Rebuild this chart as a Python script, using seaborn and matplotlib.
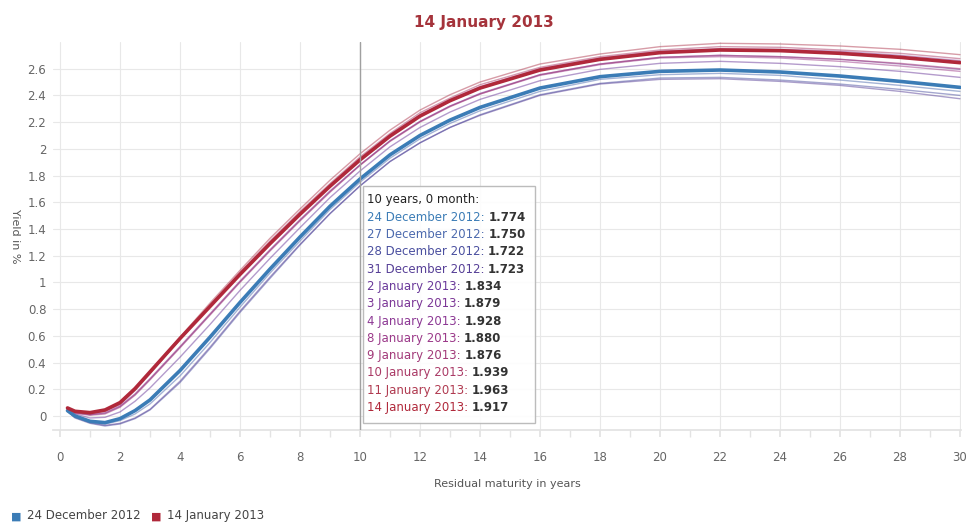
"""Yield curves around the turn of 2012/2013, 10-year readout."""

import matplotlib

matplotlib.use("Agg")
import matplotlib.pyplot as plt
import seaborn as sns
from matplotlib.patches import Rectangle

# residual maturity in years
maturity = [0.25, 0.5, 1, 1.5, 2, 2.5, 3, 4, 5, 6, 7, 8, 9, 10, 11, 12, 13, 14,
            16, 18, 20, 22, 24, 26, 28, 30]

# yields in %
dec24 = [0.04, 0.00, -0.04, -0.05, -0.02, 0.04, 0.12, 0.34, 0.59, 0.85, 1.10, 1.34, 1.57,
         1.774, 1.955, 2.10, 2.215, 2.31, 2.455, 2.54, 2.58, 2.59, 2.575, 2.545, 2.505, 2.46]
dec27 = [0.04, -0.005, -0.045, -0.06, -0.035, 0.015, 0.09, 0.30, 0.55, 0.815, 1.07, 1.31, 1.545,
         1.750, 1.93, 2.075, 2.19, 2.285, 2.43, 2.52, 2.555, 2.565, 2.55, 2.515, 2.475, 2.43]
dec28 = [0.035, -0.015, -0.055, -0.075, -0.06, -0.02, 0.045, 0.25, 0.505, 0.775, 1.03, 1.28, 1.515,
         1.722, 1.905, 2.045, 2.16, 2.255, 2.405, 2.49, 2.53, 2.535, 2.515, 2.485, 2.445, 2.40]
dec31 = [0.035, -0.01, -0.05, -0.07, -0.055, -0.015, 0.05, 0.26, 0.515, 0.785, 1.04, 1.285, 1.515,
         1.723, 1.905, 2.045, 2.16, 2.25, 2.40, 2.485, 2.52, 2.525, 2.505, 2.475, 2.43, 2.375]
jan02 = [0.05, 0.015, -0.015, -0.01, 0.03, 0.11, 0.21, 0.44, 0.685, 0.94, 1.18, 1.41, 1.635,
         1.834, 2.015, 2.16, 2.275, 2.37, 2.51, 2.595, 2.64, 2.655, 2.64, 2.615, 2.58, 2.535]
jan03 = [0.055, 0.025, 0.01, 0.02, 0.07, 0.16, 0.275, 0.515, 0.76, 1.005, 1.24, 1.465, 1.68,
         1.879, 2.06, 2.205, 2.32, 2.415, 2.555, 2.635, 2.685, 2.70, 2.69, 2.67, 2.635, 2.595]
jan04 = [0.06, 0.035, 0.02, 0.04, 0.09, 0.195, 0.32, 0.575, 0.825, 1.065, 1.30, 1.52, 1.725,
         1.928, 2.105, 2.255, 2.37, 2.465, 2.60, 2.68, 2.73, 2.75, 2.745, 2.73, 2.70, 2.66]
jan08 = [0.055, 0.025, 0.01, 0.025, 0.075, 0.165, 0.28, 0.52, 0.765, 1.01, 1.245, 1.47, 1.685,
         1.880, 2.06, 2.205, 2.32, 2.41, 2.55, 2.63, 2.68, 2.69, 2.68, 2.655, 2.62, 2.58]
jan09 = [0.05, 0.02, 0.005, 0.015, 0.065, 0.155, 0.27, 0.51, 0.755, 1.00, 1.235, 1.46, 1.675,
         1.876, 2.055, 2.20, 2.315, 2.41, 2.555, 2.635, 2.685, 2.70, 2.69, 2.67, 2.64, 2.60]
jan10 = [0.055, 0.03, 0.015, 0.035, 0.085, 0.19, 0.315, 0.575, 0.83, 1.075, 1.31, 1.53, 1.74,
         1.939, 2.115, 2.27, 2.38, 2.48, 2.61, 2.69, 2.74, 2.765, 2.76, 2.74, 2.715, 2.675]
jan11 = [0.06, 0.035, 0.02, 0.04, 0.095, 0.20, 0.33, 0.59, 0.845, 1.09, 1.33, 1.55, 1.765,
         1.963, 2.14, 2.29, 2.405, 2.50, 2.635, 2.71, 2.765, 2.79, 2.785, 2.77, 2.745, 2.705]
jan14 = [0.06, 0.035, 0.025, 0.045, 0.10, 0.205, 0.33, 0.58, 0.82, 1.06, 1.29, 1.51, 1.72,
         1.917, 2.095, 2.245, 2.36, 2.455, 2.59, 2.67, 2.72, 2.74, 2.735, 2.715, 2.685, 2.645]

dates = ["24 December 2012", "27 December 2012", "28 December 2012", "31 December 2012",
         "2 January 2013", "3 January 2013", "4 January 2013", "8 January 2013",
         "9 January 2013", "10 January 2013", "11 January 2013", "14 January 2013"]
curves = [dec24, dec27, dec28, dec31, jan02, jan03, jan04, jan08, jan09, jan10, jan11, jan14]

colors = ["#3b7cb6", "#4c6aae", "#4a4f9f", "#563f97", "#6a399a", "#7b3696",
          "#8c3894", "#9b3989", "#a23a79", "#aa3a66", "#b03a50", "#b0283a"]

y_ticks = [0, 0.2, 0.4, 0.6, 0.8, 1, 1.2, 1.4, 1.6, 1.8, 2, 2.2, 2.4, 2.6]
x_ticks = list(range(0, 31, 2))

sns.set_theme(style="whitegrid")
plt.rcParams["font.family"] = ["DejaVu Sans"]

fig = plt.figure(figsize=(9.67, 5.24), dpi=100)
ax = fig.add_axes([0.0543, 0.1794, 0.9400, 0.7405])

# thin lines first, the two highlighted dates on top
for i in range(1, len(curves) - 1):
    sns.lineplot(x=maturity, y=curves[i], ax=ax, color=colors[i], lw=1.0, alpha=0.5, zorder=2)
sns.lineplot(x=maturity, y=curves[0], ax=ax, color=colors[0], lw=2.6, zorder=3)
sns.lineplot(x=maturity, y=curves[-1], ax=ax, color=colors[-1], lw=2.6, zorder=3)

ax.set_xlim(-0.25, 30.05)
ax.set_ylim(-0.105, 2.80)
ax.set_xticks(x_ticks)
ax.set_xticks(range(1, 30, 2), minor=True)
ax.set_yticks(y_ticks)
ax.set_yticklabels([f"{v:g}" for v in y_ticks])
ax.grid(True, which="major", color="#e8e8e8", lw=0.8)
ax.grid(False, which="minor")
for side in ["left", "right", "top"]:
    ax.spines[side].set_visible(False)
ax.spines["bottom"].set_color("#e3e3e3")
ax.tick_params(axis="x", which="both", length=5, color="#e3e3e3", pad=10,
               labelsize=8.5, labelcolor="#666666", bottom=True)
ax.tick_params(axis="y", length=0, pad=4.5, labelsize=8.5, labelcolor="#666666")

ax.set_xlabel("Residual maturity in years", fontsize=8, color="#555555", labelpad=11)
ax.set_ylabel("Yield in %", fontsize=8, color="#555555", rotation=270, labelpad=12)
ax.yaxis.set_label_coords(-0.047, 0.5)

# crosshair and tooltip at 10 years
ax.axvline(10, color="#a0a0a0", lw=1, zorder=4)
ax.add_patch(Rectangle((10.1, -0.05), 5.73, 1.77, facecolor="white", alpha=0.9,
                       edgecolor="#b5b5b5", lw=1, zorder=5))
idx10 = maturity.index(10)
line_step = 0.1296
top_y = 1.618
ax.text(10.23, top_y, "10 years, 0 month:", fontsize=8.5, color="#222222",
        va="center", zorder=6)
for i, (date, vals) in enumerate(zip(dates, curves)):
    t = ax.text(10.23, top_y - (i + 1) * line_step, f"{date}: ", fontsize=8.5,
                color=colors[i], va="center", zorder=6)
    ax.annotate(f"{vals[idx10]:.3f}", xy=(1, 0), xycoords=t, va="bottom", ha="left",
                fontsize=8.5, fontweight="bold", color="#333333", zorder=6)

fig.text(0.5, 1 - 22 / 524, "14 January 2013", ha="center", va="center",
         fontsize=11, fontweight="bold", color="#a5333b")

# legend along the bottom edge
fig.text(11 / 967, 2 / 524, "■", color=colors[0], fontsize=8, va="bottom")
fig.text(27 / 967, 2 / 524, dates[0], color="#444444", fontsize=8.5, va="bottom")
fig.text(151 / 967, 2 / 524, "■", color=colors[-1], fontsize=8, va="bottom")
fig.text(167 / 967, 2 / 524, dates[-1], color="#444444", fontsize=8.5, va="bottom")

fig.savefig("out.png", dpi=100)
